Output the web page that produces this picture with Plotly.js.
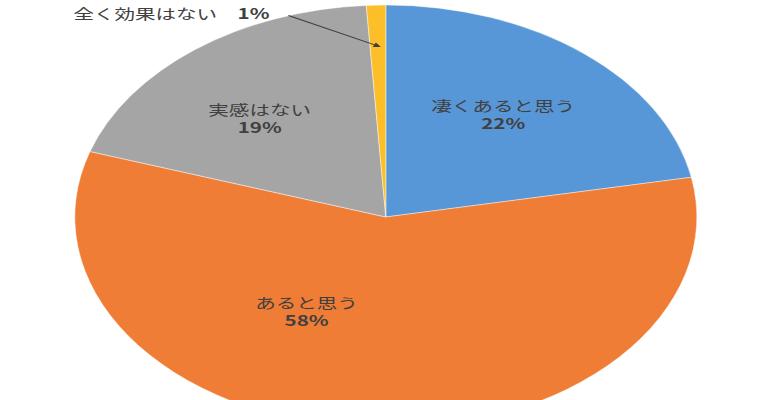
<!DOCTYPE html>
<html>
<head>
<meta charset="utf-8">
<script src="https://cdn.plot.ly/plotly-3.0.1.min.js"></script>
<style>
html,body{margin:0;padding:0;overflow:hidden;background:#fff;}
#chart{width:518px;height:429px;transform:scaleX(1.467);transform-origin:0 0;}
</style>
</head>
<body>
<div id="chart"></div>
<script>
// Data
var categories = ['凄くあると思う', 'あると思う', '実感はない', '全く効果はない'];
var percents = [22, 58, 19, 1];
var colors = ['#5797d7', '#ef7d36', '#a5a5a5', '#fcbf2a'];

// Label placement (paper coords), styling only
var labelPos = [
  {x: 0.688, y: 0.743},
  {x: 0.373, y: 0.278},
  {x: 0.298, y: 0.733}
];

var annFont = {family: '"Noto Sans CJK JP", "Noto Sans", sans-serif', size: 14, color: '#404040'};
var annotations = [];
for (var i = 0; i < 3; i++) {
  annotations.push({
    xref: 'paper', yref: 'paper',
    x: labelPos[i].x, y: labelPos[i].y,
    xanchor: 'center', yanchor: 'middle',
    text: categories[i] + '<br><b>' + percents[i] + '%</b>',
    showarrow: false, font: annFont, align: 'center'
  });
}
// Outside label for the small slice
annotations.push({
  xref: 'paper', yref: 'paper',
  x: 0.156, y: 0.981,
  xanchor: 'center', yanchor: 'middle',
  text: categories[3] + '　<b>' + percents[3] + '%</b>',
  showarrow: false, font: annFont
});
annotations.push({
  xref: 'paper', yref: 'paper',
  x: 0.492, y: 0.901,
  text: ' ',
  showarrow: true, ax: -66, ay: -33,
  arrowhead: 2, arrowsize: 1, arrowwidth: 1, arrowcolor: '#404040',
  standoff: 0, startstandoff: 0
});

var trace = {
  type: 'pie',
  labels: categories,
  values: percents,
  sort: false,
  direction: 'clockwise',
  rotation: 0,
  marker: {colors: colors, line: {color: 'rgba(255,255,255,0.6)', width: 0.6}},
  textinfo: 'none',
  hoverinfo: 'label+percent',
  showlegend: false,
  domain: {x: [0, 1], y: [0, 1]}
};

var layout = {
  width: 518, height: 429,
  margin: {l: 51, r: 43, t: 5, b: 0},
  paper_bgcolor: '#ffffff',
  showlegend: false,
  annotations: annotations
};

Plotly.newPlot('chart', [trace], layout, {displayModeBar: false, staticPlot: true});
</script>
</body>
</html>
